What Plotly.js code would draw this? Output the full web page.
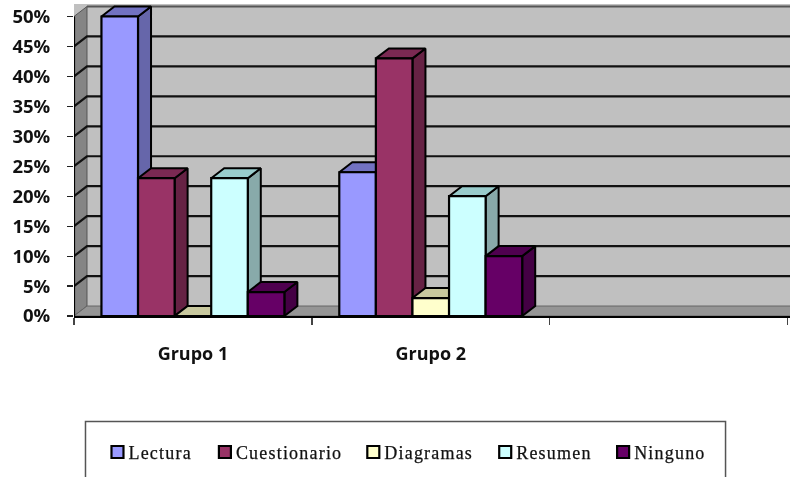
<!DOCTYPE html>
<html><head><meta charset="utf-8">
<script src="https://cdn.plot.ly/plotly-3.0.1.min.js"></script>
<style>
html,body{margin:0;padding:0;background:#fff;overflow:hidden}
#chart{filter:blur(0.35px)}
.legendtext,.legend2text,.legend3text,.legend4text,.legend5text{letter-spacing:1.2px;transform:translateX(-9px);stroke:#111;stroke-width:0.25px}
</style>
</head><body><div id="chart" style="width:790px;height:477px"></div>
<script>
const categories = ['Grupo 1', 'Grupo 2', ' '];
const seriesNames = ['Lectura', 'Cuestionario', 'Diagramas', 'Resumen', 'Ninguno'];
const lectura = [50, 24];
const cuestionario = [23, 43];
const diagramas = [0, 3];
const resumen = [23, 20];
const ninguno = [4, 10];
const yTicks = [0, 5, 10, 15, 20, 25, 30, 35, 40, 45, 50];
const yTickText = yTicks.map(v => v + '%');
const frontColors = ['#9999FF', '#993366', '#FFFFCC', '#CCFFFF', '#660066'];
const topColors = ['#7272C2', '#7A2952', '#C8C89E', '#99CCCC', '#4F004F'];
const sideColors = ['#6666AA', '#662244', '#AAAA88', '#88AAAA', '#440044'];
const legendCenters = [118, 225.5, 374, 506, 624];

const seriesValues = [lectura, cuestionario, diagramas, resumen, ninguno];
const marginL = 73.5, plotW = 790 - marginL;
const xMax = plotW / 238, yMax = 312.5 / 6;
const depthX = 13 / 238, depthY = 10 / 6;
const gap = 0.2308, barW = (1 - gap) / 5;
const groupX = [0.5, 1.5];
const traces = [];

// walls and floor
traces.push({x:[0,depthX,depthX,0,0], y:[0,depthY,50+depthY,50,0], fill:'toself', fillcolor:'#858585', mode:'lines', line:{color:'#555',width:1}, showlegend:false, hoverinfo:'skip'});
traces.push({x:[0,depthX,xMax+1,xMax+1,0], y:[0,depthY,depthY,0,0], fill:'toself', fillcolor:'#959595', mode:'lines', line:{color:'#666',width:1}, showlegend:false, hoverinfo:'skip'});
// top edge of the back wall
traces.push({x:[depthX,xMax+1], y:[50+depthY,50+depthY], mode:'lines', line:{color:'#555',width:2}, showlegend:false, hoverinfo:'skip'});
// grid lines
const gx = [], gy = [];
yTicks.forEach(v => { if (v > 0 && v < 50) { gx.push(0, depthX, xMax + 1, null); gy.push(v, v + depthY, v + depthY, null); } });
traces.push({x:gx, y:gy, mode:'lines', line:{color:'#111',width:2.2}, showlegend:false, hoverinfo:'skip'});

// depth faces, painted left to right
groupX.forEach((c, j) => {
  seriesValues.forEach((vals, i) => {
    const v = vals[j], l = c - (1 - gap) / 2 + i * barW, r = l + barW;
    traces.push({x:[r,r+depthX,r+depthX,r,r], y:[v,v+depthY,depthY,0,v], fill:'toself', fillcolor:sideColors[i], mode:'lines', line:{color:'#000',width:2}, showlegend:false, hoverinfo:'skip'});
    traces.push({x:[l,l+depthX,r+depthX,r,l], y:[v,v+depthY,v+depthY,v,v], fill:'toself', fillcolor:topColors[i], mode:'lines', line:{color:'#000',width:2}, showlegend:false, hoverinfo:'skip'});
  });
});

// y axis line
traces.push({x:[0,0], y:[0,50], mode:'lines', line:{color:'#000',width:2.2}, cliponaxis:false, showlegend:false, hoverinfo:'skip'});

// front faces
seriesValues.forEach((vals, i) => {
  traces.push({type:'bar', name:seriesNames[i], x:groupX, y:vals, xaxis:'x2', yaxis:'y2',
    legend: i === 0 ? 'legend' : 'legend' + (i + 1),
    marker:{color:frontColors[i], line:{color:'#000',width:2.2}}});
});

const layout = {
  width:790, height:477, showlegend:true, hovermode:false,
  paper_bgcolor:'#fff', plot_bgcolor:'#C0C0C0',
  margin:{l:marginL, r:0, t:4, b:160.5, autoexpand:false},
  barmode:'group', bargap:gap, bargroupgap:0,
  xaxis:{range:[0,xMax], tickmode:'array', tickvals:[0.5,1.5,2.5], ticktext:categories, ticks:'', showgrid:false, zeroline:false,
    showline:true, linecolor:'#000', linewidth:2.2, ticklabelstandoff:20,
    tickfont:{family:'Open Sans', size:18, color:'#111', weight:700},
    minor:{tickmode:'array', tickvals:[0,1,2,3], ticks:'outside', ticklen:7, tickwidth:1.5, tickcolor:'#444'}},
  yaxis:{range:[0,yMax], tickmode:'array', tickvals:yTicks, ticktext:yTickText, ticks:'outside', ticklen:6, tickwidth:1.2, tickcolor:'#222',
    showgrid:false, zeroline:false, showline:false, ticklabelstandoff:13,
    tickfont:{family:'Open Sans', size:18.5, color:'#111', weight:700}},
  xaxis2:{overlaying:'x', range:[0,xMax], visible:false},
  yaxis2:{overlaying:'y', range:[0,yMax], visible:false},
  shapes:[{type:'rect', xref:'paper', yref:'paper', x0:(85-marginL)/plotW, x1:(725.5-marginL)/plotW, y0:-0.338, y1:-0.7, fillcolor:'#fff', line:{color:'#555',width:1.5}, layer:'below'}]
};
legendCenters.forEach((c, i) => {
  layout[i === 0 ? 'legend' : 'legend' + (i + 1)] = {
    orientation:'h', xref:'paper', yref:'paper', x:(c - 21 - marginL) / plotW, xanchor:'left', y:-0.4368, yanchor:'middle',
    bgcolor:'rgba(0,0,0,0)', borderwidth:0,
    font:{family:'Liberation Serif', size:18, color:'#111'}, itemclick:false, itemdoubleclick:false};
});
Plotly.newPlot('chart', traces, layout, {displayModeBar:false, staticPlot:true});
</script></body></html>
